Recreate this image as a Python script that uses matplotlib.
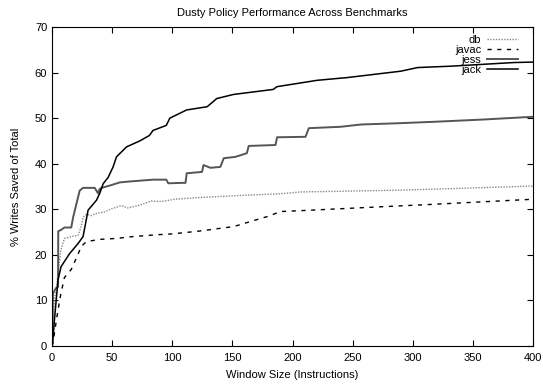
import matplotlib.pyplot as plt

# Data
db_x = [0, 0.5, 1.5, 2.4, 4, 7.3, 10.3, 16, 21.7, 24, 26, 28.6, 32.7, 35.5, 43.7, 49.3, 57.7,
        63, 71.5, 82.5, 91, 102, 113, 124, 140, 162, 190, 207, 250, 290, 340, 400]
db_y = [0, 3, 7.8, 10.7, 13.7, 21, 23.6, 24, 24.3, 26, 28.3, 28.9, 28.6, 29, 29.4, 30.1, 30.8,
        30.3, 30.8, 31.8, 31.7, 32.2, 32.4, 32.6, 32.8, 33.1, 33.4, 33.8, 34.0, 34.2, 34.6, 35.1]

javac_x = [0, 1, 4, 7.3, 10.3, 16, 20.4, 24.5, 28.6, 39.7, 53.5, 67, 86.5, 100, 122,
           151, 165, 179, 190, 207, 262, 318, 400]
javac_y = [0, 1, 6.3, 11.4, 15, 16.8, 19.4, 21.9, 22.9, 23.4, 23.6, 24, 24.4, 24.6, 25.2,
           26.2, 27.3, 28.4, 29.5, 29.7, 30.4, 31.1, 32.2]

jess_x = [0, 0.8, 3, 5, 5.2, 7, 10.3, 16, 17.6, 20.4, 23, 25.8, 31.4, 35.5, 38.3, 39.7, 42.5,
          48, 56.4, 64.7, 84, 95, 96.7, 109, 111, 112, 124.7, 126, 131.7, 140, 142.8,
          152.5, 162, 163.6, 185.8, 187.2, 210.8, 213.6, 240, 256.7, 290, 317.8, 359, 400]
jess_y = [0, 11.5, 12.6, 13, 25.2, 25.4, 26, 26, 28.3, 31.3, 34.1, 34.7, 34.7, 34.7, 33.5, 34.5,
          34.8, 35.2, 35.9, 36.1, 36.5, 36.5, 35.7, 35.8, 35.8, 37.9, 38.2, 39.7, 39.1, 39.3, 41.2,
          41.5, 42.3, 43.9, 44.1, 45.8, 45.9, 47.8, 48.1, 48.6, 48.9, 49.2, 49.7, 50.3]

jack_x = [0, 0.5, 2, 5, 7.5, 14.7, 21.7, 25.8, 30, 37, 39.7, 42.5, 46.7, 50.8, 53.6, 62, 73,
          81, 84, 95, 98, 112, 129, 137, 151, 184, 187, 220.5, 245.5, 290, 304, 331.7, 384, 400]
jack_y = [0, 0.5, 5.7, 14.5, 17.4, 20.3, 22.5, 24, 29.8, 32, 33.5, 35.6, 37, 39.3, 41.5, 43.7, 45,
          46.2, 47.3, 48.4, 50.0, 51.8, 52.5, 54.3, 55.2, 56.3, 56.9, 58.3, 58.9, 60.3, 61.1, 61.4,
          62.2, 62.3]

plt.rcParams['font.family'] = 'Liberation Sans'
fig = plt.figure(figsize=(5.43, 3.84), dpi=100)
ax = fig.add_axes([0.0958, 0.099, 0.8858, 0.8307])

ax.plot(db_x, db_y, color='#888888', linestyle=(0, (1, 1)), lw=1.0, label='db')
ax.plot(javac_x, javac_y, color='black', linestyle=(0, (3, 4)), lw=1.0, label='javac')
ax.plot(jess_x, jess_y, color='#555555', lw=1.4, label='jess')
ax.plot(jack_x, jack_y, color='black', lw=1.1, label='jack')

ax.set_xlim(0, 400)
ax.set_ylim(0, 70)
ax.set_xticks(range(0, 401, 50))
ax.set_yticks(range(0, 71, 10))
ax.tick_params(direction='in', top=True, right=True, length=4, labelsize=8)
ax.tick_params(axis='x', pad=5)
ax.set_xlabel('Window Size (Instructions)', fontsize=8, labelpad=5)
ax.set_ylabel('% Writes Saved of Total', fontsize=8, labelpad=10)
ax.set_title('Dusty Policy Performance Across Benchmarks', fontsize=8, pad=8)

leg = ax.legend(loc='upper right', bbox_to_anchor=(0.985, 1.0), frameon=False, fontsize=8,
                markerfirst=False, handlelength=2.8, handletextpad=0.5, labelspacing=0.0,
                borderaxespad=0.3)
for t in leg.get_texts():
    t.set_ha('right')

fig.savefig('out.png', dpi=100)
